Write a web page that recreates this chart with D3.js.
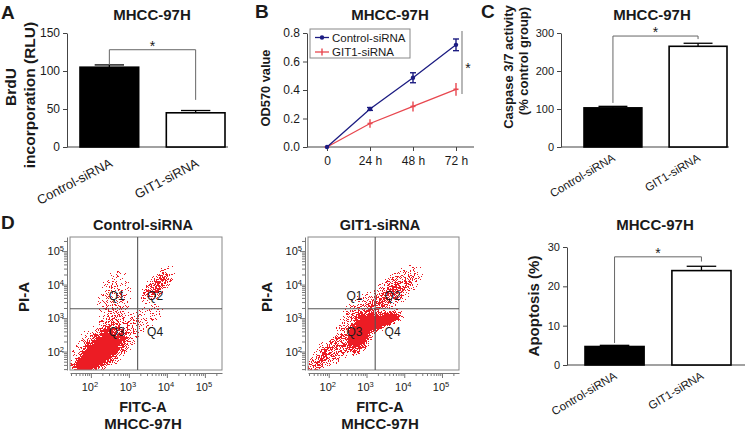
<!DOCTYPE html>
<html><head><meta charset="utf-8">
<script src="https://cdn.jsdelivr.net/npm/d3@7"></script>
<style>
body{margin:0;background:#fff}
svg{display:block;font-family:"Liberation Sans",Arial,Helvetica,sans-serif}
</style></head><body>
<svg id="c" width="746" height="432"></svg>
<script>
// ---------------- DATA ----------------
const groups = ["Control-siRNA", "GIT1-siRNA"];

const brduMean = [105, 45];
const brduErr = [3, 3];
const brduTicks = [0, 50, 100, 150];
const brduSig = [108, 128, 62];      // left end, top, right end

const caspMean = [103, 265];
const caspErr = [4, 8];
const caspTicks = [0, 100, 200, 300];
const caspSig = [116, 292, 284];

const apopMean = [4.7, 24.0];
const apopErr = [0.3, 1.1];
const apopTicks = [0, 10, 20, 30];
const apopSig = [5.6, 27.5, 26.3];

const timepoints = ["0", "24 h", "48 h", "72 h"];
const odControl = [0, 0.267, 0.486, 0.717];
const odControlErr = [0, 0.01, 0.035, 0.041];
const odGit1 = [0, 0.165, 0.285, 0.405];
const odGit1Err = [0, 0.03, 0.035, 0.045];
const odTicks = [0, 0.2, 0.4, 0.6, 0.8];
const odSig = [0.814, 0.372];

// flow cytometry: population clouds (log10 FITC-A, log10 PI-A, half-axes in decades, tilt deg, density)
const flowControl = [
  {fitc: 2.4, pi: 2.25, a: 1.15, b: 0.72, tilt: 40, dens: 0.5},
  {fitc: 2.3, pi: 2.05, a: 0.85, b: 0.5, tilt: 38, dens: 1.0},
  {fitc: 1.9, pi: 1.65, a: 0.55, b: 0.28, tilt: 15, dens: 1.0},
  {fitc: 2.6, pi: 3.45, a: 0.95, b: 0.5, tilt: 80, dens: 0.24},
  {fitc: 3.75, pi: 4.0, a: 0.65, b: 0.3, tilt: 48, dens: 0.55},
  {fitc: 3.45, pi: 3.0, a: 0.55, b: 0.38, tilt: 45, dens: 0.22}
];
const flowGit1 = [
  {fitc: 2.9, pi: 3.0, a: 0.9, b: 0.62, tilt: 45, dens: 0.42},
  {fitc: 2.2, pi: 2.1, a: 0.9, b: 0.42, tilt: 35, dens: 0.48},
  {fitc: 1.6, pi: 1.55, a: 0.4, b: 0.28, tilt: 30, dens: 0.4},
  {fitc: 3.75, pi: 3.85, a: 0.95, b: 0.45, tilt: 40, dens: 0.45},
  {fitc: 2.85, pi: 2.55, a: 0.7, b: 0.38, tilt: 70, dens: 1.0},
  {fitc: 3.55, pi: 2.98, a: 0.5, b: 0.25, tilt: 18, dens: 1.0},
  {fitc: 3.2, pi: 2.85, a: 0.32, b: 0.32, tilt: 0, dens: 1.0}
];
const flowTicks = [2, 3, 4, 5];
const flowDomainX = [1.45, 5.45];
const flowDomainY = [1.45, 5.42];
const gate = [3.23, 3.28];
const quadLabels = [
  {name: "Q1", fitc: 2.68, pi: 3.66}, {name: "Q2", fitc: 3.69, pi: 3.66},
  {name: "Q3", fitc: 2.68, pi: 2.61}, {name: "Q4", fitc: 3.69, pi: 2.61}
];

// ---------------- DRAW ----------------
const svg = d3.select("#c");
const defs = svg.append("defs");
const AX = "#444", TXT = "#1a1a1a";

function styleAxis(g, fs) {
  g.select(".domain").attr("stroke", AX).attr("stroke-width", 1);
  g.selectAll(".tick line").attr("stroke", AX);
  g.selectAll(".tick text").attr("fill", TXT).attr("font-size", fs)
    .attr("font-family", '"Liberation Sans",Arial,sans-serif');
}
function txt(x, y, s, o = {}) {
  const t = svg.append("text").attr("x", x).attr("y", y).text(s)
    .attr("font-size", o.fs || 13).attr("font-weight", o.bold === false ? "normal" : "bold")
    .attr("text-anchor", o.anchor || "middle").attr("fill", TXT);
  if (o.rot) t.attr("transform", `rotate(${o.rot},${x},${y})`);
  return t;
}

// Bar panel
function barPanel(o) {
  const y = d3.scaleLinear().domain([0, o.ticks[o.ticks.length - 1]]).range([o.yBot, o.yTop]);
  const x = d3.scaleBand().domain(groups).range(o.band).paddingInner(0.32).paddingOuter(0);
  const g = svg.append("g");
  const ya = g.append("g").attr("transform", `translate(${o.axisX},0)`)
    .call(d3.axisLeft(y).tickValues(o.ticks).tickSize(4).tickSizeOuter(0).tickPadding(3));
  styleAxis(ya, o.tfs);
  g.append("line").attr("x1", o.axisX).attr("x2", o.axisEnd).attr("y1", o.yBot).attr("y2", o.yBot)
    .attr("stroke", AX).attr("stroke-width", 1.2);
  const bw = x.bandwidth();
  groups.forEach((k, i) => {
    const cx = x(k) + bw / 2;
    g.append("line").attr("x1", cx).attr("x2", cx).attr("y1", y(o.mean[i])).attr("y2", y(o.mean[i] + o.err[i]))
      .attr("stroke", "#000").attr("stroke-width", 1.3);
    g.append("line").attr("x1", cx - bw / 4).attr("x2", cx + bw / 4)
      .attr("y1", y(o.mean[i] + o.err[i])).attr("y2", y(o.mean[i] + o.err[i]))
      .attr("stroke", "#000").attr("stroke-width", 1.3);
    g.append("rect").attr("x", x(k)).attr("y", y(o.mean[i])).attr("width", bw)
      .attr("height", y(0) - y(o.mean[i]))
      .attr("fill", i === 0 ? "#000" : "#fff").attr("stroke", "#000").attr("stroke-width", 1.6);
    g.append("text").attr("transform", `translate(${cx + o.lab[0]},${o.yBot + o.lab[1]}) rotate(${o.rot})`)
      .attr("text-anchor", "end").attr("font-size", o.lfs).attr("fill", TXT).text(k);
  });
  const c0 = x(groups[0]) + bw / 2, c1 = x(groups[1]) + bw / 2;
  g.append("path").attr("d", `M${c0},${y(o.sig[0])}V${y(o.sig[1])}H${c1}V${y(o.sig[2])}`)
    .attr("fill", "none").attr("stroke", "#666").attr("stroke-width", 1);
  g.append("text").attr("x", (c0 + c1) / 2).attr("y", y(o.sig[1]) + 1).attr("text-anchor", "middle")
    .attr("font-size", 14).attr("fill", TXT).text("*");
}

barPanel({mean: brduMean, err: brduErr, ticks: brduTicks, sig: brduSig, yBot: 147, yTop: 33,
  band: [80, 225], axisX: 67, axisEnd: 228, rot: -28, lfs: 13, tfs: 12, lab: [4, 19]});
barPanel({mean: caspMean, err: caspErr, ticks: caspTicks, sig: caspSig, yBot: 147, yTop: 33,
  band: [584, 727], axisX: 561, axisEnd: 729, rot: -31, lfs: 11.5, tfs: 11, lab: [3, 13]});
barPanel({mean: apopMean, err: apopErr, ticks: apopTicks, sig: apopSig, yBot: 365, yTop: 247,
  band: [585, 731], axisX: 567, axisEnd: 745, rot: -31, lfs: 11.5, tfs: 11, lab: [3, 13]});

// Line panel B
(function () {
  const x = d3.scalePoint().domain(timepoints).range([327, 456]);
  const y = d3.scaleLinear().domain([0, 0.8]).range([147, 33]);
  const ya = svg.append("g").attr("transform", "translate(307,0)")
    .call(d3.axisLeft(y).tickValues(odTicks).tickFormat(d3.format(".1f")).tickSize(4).tickSizeOuter(0).tickPadding(3));
  styleAxis(ya, 12);
  const xa = svg.append("g").attr("transform", "translate(0,147)")
    .call(d3.axisBottom(x).tickSize(4).tickSizeOuter(0).tickPadding(5));
  xa.select(".domain").remove();
  styleAxis(xa, 12);
  svg.append("line").attr("x1", 307).attr("x2", 474).attr("y1", 147).attr("y2", 147)
    .attr("stroke", AX).attr("stroke-width", 1.2);
  const series = [
    {v: odGit1, e: odGit1Err, c: "#e8474f", cap: false},
    {v: odControl, e: odControlErr, c: "#1c1c82", cap: true}
  ];
  const line = d3.line().x((d, i) => x(timepoints[i])).y(d => y(d));
  series.forEach(s => {
    svg.append("path").datum(s.v).attr("d", line).attr("fill", "none").attr("stroke", s.c).attr("stroke-width", 1.3);
    s.v.forEach((v, i) => {
      const cx = x(timepoints[i]);
      if (s.e[i] > 0) {
        svg.append("line").attr("x1", cx).attr("x2", cx).attr("y1", y(v - s.e[i])).attr("y2", y(v + s.e[i]))
          .attr("stroke", s.c).attr("stroke-width", 1.4);
        if (s.cap) [v - s.e[i], v + s.e[i]].forEach(w =>
          svg.append("line").attr("x1", cx - 3).attr("x2", cx + 3).attr("y1", y(w)).attr("y2", y(w))
            .attr("stroke", s.c).attr("stroke-width", 1.4));
      }
      if (s.cap) svg.append("circle").attr("cx", cx).attr("cy", y(v)).attr("r", 2.2).attr("fill", s.c);
      else svg.append("line").attr("x1", cx - 2.5).attr("x2", cx + 2.5).attr("y1", y(v)).attr("y2", y(v))
        .attr("stroke", s.c).attr("stroke-width", 1.6);
    });
  });
  // legend
  svg.append("rect").attr("x", 310).attr("y", 29).attr("width", 100).attr("height", 29)
    .attr("fill", "#fff").attr("stroke", "#888").attr("stroke-width", 1);
  [[series[1], "Control-siRNA", 37.5], [series[0], "GIT1-siRNA", 52]].forEach(([s, name, ly]) => {
    svg.append("line").attr("x1", 315).attr("x2", 329).attr("y1", ly).attr("y2", ly).attr("stroke", s.c).attr("stroke-width", 1.3);
    if (s.cap) svg.append("circle").attr("cx", 322).attr("cy", ly).attr("r", 2.2).attr("fill", s.c);
    else svg.append("line").attr("x1", 322).attr("x2", 322).attr("y1", ly - 3.5).attr("y2", ly + 3.5).attr("stroke", s.c).attr("stroke-width", 1.4);
    svg.append("text").attr("x", 332).attr("y", ly + 4.2).attr("font-size", 11.5).attr("fill", TXT).text(name);
  });
  svg.append("line").attr("x1", 462).attr("x2", 462).attr("y1", y(odSig[0])).attr("y2", y(odSig[1]))
    .attr("stroke", "#888").attr("stroke-width", 1.2);
  svg.append("text").attr("x", 468).attr("y", 73).attr("text-anchor", "middle").attr("font-size", 14).attr("fill", TXT).text("*");
})();

// speckle filter for flow clouds
const f = defs.append("filter").attr("id", "speckle").attr("filterUnits", "userSpaceOnUse")
  .attr("x", 0).attr("y", 0).attr("width", 746).attr("height", 432)
  .attr("color-interpolation-filters", "sRGB");
f.append("feTurbulence").attr("type", "fractalNoise").attr("baseFrequency", 1.37).attr("numOctaves", 2)
  .attr("seed", 5).attr("result", "turb");
f.append("feColorMatrix").attr("in", "turb").attr("type", "matrix")
  .attr("values", "0 0 0 0 0  0 0 0 0 0  0 0 0 0 0  2.8 0 0 0 -0.9").attr("result", "nA");
f.append("feComposite").attr("in", "SourceAlpha").attr("in2", "nA").attr("operator", "arithmetic")
  .attr("k1", 0).attr("k2", 1.3).attr("k3", 1).attr("k4", -0.52).attr("result", "sum");
const ct = f.append("feComponentTransfer").attr("in", "sum").attr("result", "mask");
ct.append("feFuncA").attr("type", "discrete").attr("tableValues", "0 1");
f.append("feFlood").attr("flood-color", "#ec1c24").attr("result", "red");
f.append("feComposite").attr("in", "red").attr("in2", "mask").attr("operator", "in");

function flowPanel(o, clusters, id) {
  const x = d3.scaleLog().domain(flowDomainX.map(v => 10 ** v)).range([o.x0, o.x1]);
  const y = d3.scaleLog().domain(flowDomainY.map(v => 10 ** v)).range([370, 237]);
  defs.append("clipPath").attr("id", "clip" + id).append("rect")
    .attr("x", o.x0).attr("y", 237).attr("width", o.x1 - o.x0).attr("height", 133);
  clusters.forEach((c, i) => {
    const gr = defs.append("radialGradient").attr("id", `g${id}${i}`);
    gr.append("stop").attr("offset", "0%").attr("stop-color", "#f00").attr("stop-opacity", c.dens);
    gr.append("stop").attr("offset", "45%").attr("stop-color", "#f00").attr("stop-opacity", c.dens * 0.9);
    gr.append("stop").attr("offset", "100%").attr("stop-color", "#f00").attr("stop-opacity", 0);
  });
  const cg = svg.append("g").attr("clip-path", `url(#clip${id})`).append("g").attr("filter", "url(#speckle)");
  const pxX = (x(1000) - x(100)), pxY = (y(100) - y(1000));
  cg.selectAll("ellipse").data(clusters).join("ellipse")
    .attr("cx", d => x(10 ** d.fitc)).attr("cy", d => y(10 ** d.pi))
    .attr("rx", d => d.a * pxX).attr("ry", d => d.b * pxY)
    .attr("transform", d => `rotate(${-d.tilt},${x(10 ** d.fitc)},${y(10 ** d.pi)})`)
    .attr("fill", (d, i) => `url(#g${id}${i})`);
  // box
  svg.append("rect").attr("x", o.x0).attr("y", 237).attr("width", o.x1 - o.x0).attr("height", 133)
    .attr("fill", "none").attr("stroke", "#888").attr("stroke-width", 1);
  // gates
  svg.append("line").attr("x1", x(10 ** gate[0])).attr("x2", x(10 ** gate[0])).attr("y1", 237).attr("y2", 370)
    .attr("stroke", "#555").attr("stroke-width", 1.1);
  svg.append("line").attr("x1", o.x0).attr("x2", o.x1).attr("y1", y(10 ** gate[1])).attr("y2", y(10 ** gate[1]))
    .attr("stroke", "#555").attr("stroke-width", 1.1);
  quadLabels.forEach(q => svg.append("text").attr("x", x(10 ** q.fitc)).attr("y", y(10 ** q.pi) + 4.5)
    .attr("text-anchor", "middle").attr("font-size", 12).attr("fill", TXT).text(q.name));
  const majors = flowTicks.map(e => 10 ** e);
  const isMajor = v => majors.some(m => Math.abs(m - v) < 1e-6 * m);
  const fmt = () => "";
  const xa = svg.append("g").attr("transform", "translate(0,373)")
    .call(d3.axisBottom(x).tickValues(x.ticks()).tickFormat(fmt).tickSize(3).tickSizeOuter(0));
  const ya = svg.append("g").attr("transform", `translate(${o.x0 - 3},0)`)
    .call(d3.axisLeft(y).tickValues(y.ticks()).tickFormat(fmt).tickSize(3).tickSizeOuter(0));
  [xa, ya].forEach(a => {
    a.select(".domain").attr("stroke", "#777");
    a.selectAll(".tick line").attr("stroke", "#777").filter(isMajor)
      .attr(a === xa ? "y2" : "x2", a === xa ? 5 : -5);
  });
  flowTicks.forEach(e => {
    const tx = svg.append("text").attr("x", x(10 ** e) - 1).attr("y", 391).attr("text-anchor", "middle")
      .attr("font-size", 11).attr("fill", TXT);
    tx.append("tspan").text("10");
    tx.append("tspan").attr("dy", -4).attr("font-size", 7.5).text(e);
    const ty = svg.append("text").attr("x", o.x0 - 6).attr("y", y(10 ** e) + 4).attr("text-anchor", "end")
      .attr("font-size", 11).attr("fill", TXT);
    ty.append("tspan").text("10");
    ty.append("tspan").attr("dy", -4).attr("font-size", 7.5).text(e);
  });
  txt(o.cx, 230, o.title, {fs: 14.5});
  txt(o.lx, 297, "PI-A", {fs: 15, rot: -90});
  txt(o.cx, 412, "FITC-A", {fs: 14.5});
  txt(o.cx, 429, "MHCC-97H", {fs: 15});
}
flowPanel({x0: 70, x1: 222, cx: 143, lx: 29, title: "Control-siRNA"}, flowControl, "a");
flowPanel({x0: 308, x1: 459, cx: 380, lx: 272, title: "GIT1-siRNA"}, flowGit1, "b");

// titles, panel letters, axis titles
txt(152, 20, "MHCC-97H", {fs: 15});
txt(390, 20, "MHCC-97H", {fs: 15});
txt(652, 20, "MHCC-97H", {fs: 15});
txt(655, 230, "MHCC-97H", {fs: 15});
txt(1, 19, "A", {fs: 19, anchor: "start"});
txt(255, 18, "B", {fs: 19, anchor: "start"});
txt(481, 18, "C", {fs: 19, anchor: "start"});
txt(1, 229, "D", {fs: 19, anchor: "start"});
txt(16, 87, "BrdU", {fs: 15.5, rot: -90});
txt(35, 95, "incorporation (RLU)", {fs: 15.5, rot: -90});
txt(270, 88, "OD570 value", {fs: 12.8, rot: -90});
txt(512.5, 67, "Caspase 3/7 activity", {fs: 13, rot: -90});
txt(527.5, 61, "(% control group)", {fs: 13, rot: -90});
txt(539, 306, "Apoptosis (%)", {fs: 15, rot: -90});
</script>
</body></html>
